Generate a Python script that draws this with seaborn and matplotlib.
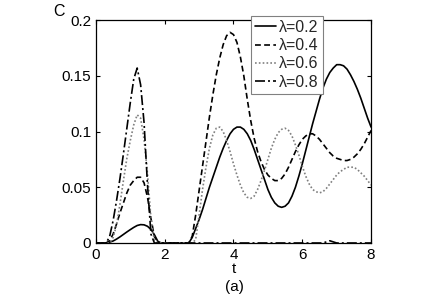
import matplotlib
matplotlib.use("Agg")
import matplotlib.pyplot as plt
import numpy as np
import pandas as pd
import seaborn as sns

# time grid (step 0.1)
t = [0.0, 0.1, 0.2, 0.3, 0.4, 0.5, 0.6, 0.7, 0.8, 0.9,
     1.0, 1.1, 1.2, 1.3, 1.4, 1.5, 1.6, 1.7, 1.8, 1.9,
     2.0, 2.1, 2.2, 2.3, 2.4, 2.5, 2.6, 2.7, 2.8, 2.9,
     3.0, 3.1, 3.2, 3.3, 3.4, 3.5, 3.6, 3.7, 3.8, 3.9,
     4.0, 4.1, 4.2, 4.3, 4.4, 4.5, 4.6, 4.7, 4.8, 4.9,
     5.0, 5.1, 5.2, 5.3, 5.4, 5.5, 5.6, 5.7, 5.8, 5.9,
     6.0, 6.1, 6.2, 6.3, 6.4, 6.5, 6.6, 6.7, 6.8, 6.9,
     7.0, 7.1, 7.2, 7.3, 7.4, 7.5, 7.6, 7.7, 7.8, 7.9,
     8.0]

c_02 = [0, 0, 0, 0.0002, 0.0008, 0.0018, 0.0035, 0.0055, 0.0077, 0.0099,
        0.012, 0.014, 0.0157, 0.0165, 0.0163, 0.015, 0.0122, 0.0075, 0.0015, 0,
        0, 0, 0, 0, 0, 0, 0, 0, 0.005, 0.013,
        0.021, 0.030, 0.040, 0.050, 0.059, 0.068, 0.077, 0.085, 0.092, 0.098,
        0.102, 0.104, 0.104, 0.102, 0.098, 0.092, 0.084, 0.075, 0.066, 0.057,
        0.048, 0.041, 0.036, 0.033, 0.032, 0.033, 0.036, 0.042, 0.050, 0.060,
        0.071, 0.083, 0.095, 0.107, 0.118, 0.129, 0.139, 0.147, 0.153, 0.157,
        0.160, 0.160, 0.159, 0.156, 0.151, 0.145, 0.138, 0.130, 0.121, 0.112,
        0.104]

c_04 = [0, 0, 0, 0, 0.002, 0.008, 0.017, 0.027, 0.036, 0.045,
        0.052, 0.056, 0.059, 0.059, 0.054, 0.041, 0.022, 0.006, 0, 0,
        0, 0, 0, 0, 0, 0, 0, 0, 0.006, 0.025,
        0.047, 0.069, 0.091, 0.113, 0.133, 0.151, 0.166, 0.178, 0.186, 0.189,
        0.187, 0.180, 0.167, 0.150, 0.129, 0.110, 0.094, 0.082, 0.073, 0.066,
        0.061, 0.058, 0.056, 0.056, 0.058, 0.062, 0.068, 0.075, 0.082, 0.088,
        0.093, 0.096, 0.098, 0.098, 0.096, 0.093, 0.089, 0.085, 0.081, 0.078,
        0.076, 0.075, 0.074, 0.074, 0.075, 0.077, 0.080, 0.084, 0.089, 0.095,
        0.101]

c_06 = [0, 0, 0, 0, 0, 0.005, 0.016, 0.035, 0.056, 0.076,
        0.092, 0.106, 0.115, 0.112, 0.093, 0.062, 0.022, 0.002, 0, 0,
        0, 0, 0, 0, 0, 0, 0, 0, 0, 0.003,
        0.025, 0.048, 0.068, 0.085, 0.097, 0.103, 0.104, 0.100, 0.092, 0.082,
        0.071, 0.061, 0.052, 0.045, 0.041, 0.040, 0.042, 0.048, 0.056, 0.065,
        0.075, 0.085, 0.093, 0.099, 0.102, 0.103, 0.101, 0.096, 0.088, 0.079,
        0.069, 0.060, 0.053, 0.048, 0.046, 0.045, 0.046, 0.049, 0.053, 0.057,
        0.061, 0.064, 0.066, 0.068, 0.068, 0.068, 0.066, 0.063, 0.060, 0.056,
        0.052]

c_08 = [0, 0, 0, 0, 0.006, 0.020, 0.038, 0.058, 0.080, 0.103,
        0.126, 0.147, 0.157, 0.142, 0.108, 0.052, 0.008, 0, 0, 0,
        0, 0, 0, 0, 0, 0, 0, 0, 0, 0,
        0, 0, 0, 0, 0, 0, 0, 0, 0, 0,
        0, 0, 0, 0, 0, 0, 0, 0, 0, 0,
        0, 0, 0, 0, 0, 0, 0, 0, 0, 0,
        0, 0, 0, 0, 0, 0, 0, 0.001, 0.002, 0.001,
        0, 0, 0, 0, 0, 0, 0, 0, 0, 0,
        0]

labels = ["\u03bb=0.2", "\u03bb=0.4", "\u03bb=0.6", "\u03bb=0.8"]
series = [c_02, c_04, c_06, c_08]
colors = ["black", "black", "#7f7f7f", "black"]
styles = ["-", (0, (3.5, 2)), (0, (1, 1.3)), (0, (6, 1.8, 1.2, 1.8))]

sns.set_theme(style="white")
plt.rcParams['font.family'] = ['Liberation Sans', 'DejaVu Sans']

fig = plt.figure(figsize=(4.32, 3.0), dpi=100)
ax = fig.add_axes([0.222, 0.19, 0.637, 0.743])

for lab, vals, col, ls in zip(labels, series, colors, styles):
    sns.lineplot(x=t, y=vals, ax=ax, color=col, linestyle=ls, lw=1.2, label=lab)

ax.set_xlim(0, 8)
ax.set_ylim(0, 0.2)
ax.set_xticks([0, 2, 4, 6, 8])
ax.set_xticklabels(["0", "2", "4", "6", "8"])
ax.set_yticks([0, 0.05, 0.1, 0.15, 0.2])
ax.set_yticklabels(["0", "0.05", "0.1", "0.15", "0.2"])
ax.tick_params(direction="in", top=True, right=True, bottom=True, left=True,
               length=3, width=0.8, labelsize=11, colors="black", pad=3.5)
for sp in ax.spines.values():
    sp.set_color("black")
    sp.set_linewidth(0.9)

ax.set_xlabel("t", fontsize=11, labelpad=0, color="black")
ax.set_ylabel("")
ax.text(-0.135, 1.04, "C", transform=ax.transAxes, ha="center", va="center",
        fontsize=11.5, color="black")
ax.text(0.502, -0.197, "(a)", transform=ax.transAxes, ha="center", va="center",
        fontsize=11, color="black")

leg = ax.legend(loc="upper left", bbox_to_anchor=(0.564, 1.018), frameon=True,
                fancybox=False, edgecolor="#808080", framealpha=1,
                handlelength=1.3, handletextpad=0.2, labelspacing=0.2,
                borderpad=0.25, borderaxespad=0, fontsize=11.5)
leg.get_frame().set_linewidth(0.8)

fig.savefig("out.png", dpi=100)
